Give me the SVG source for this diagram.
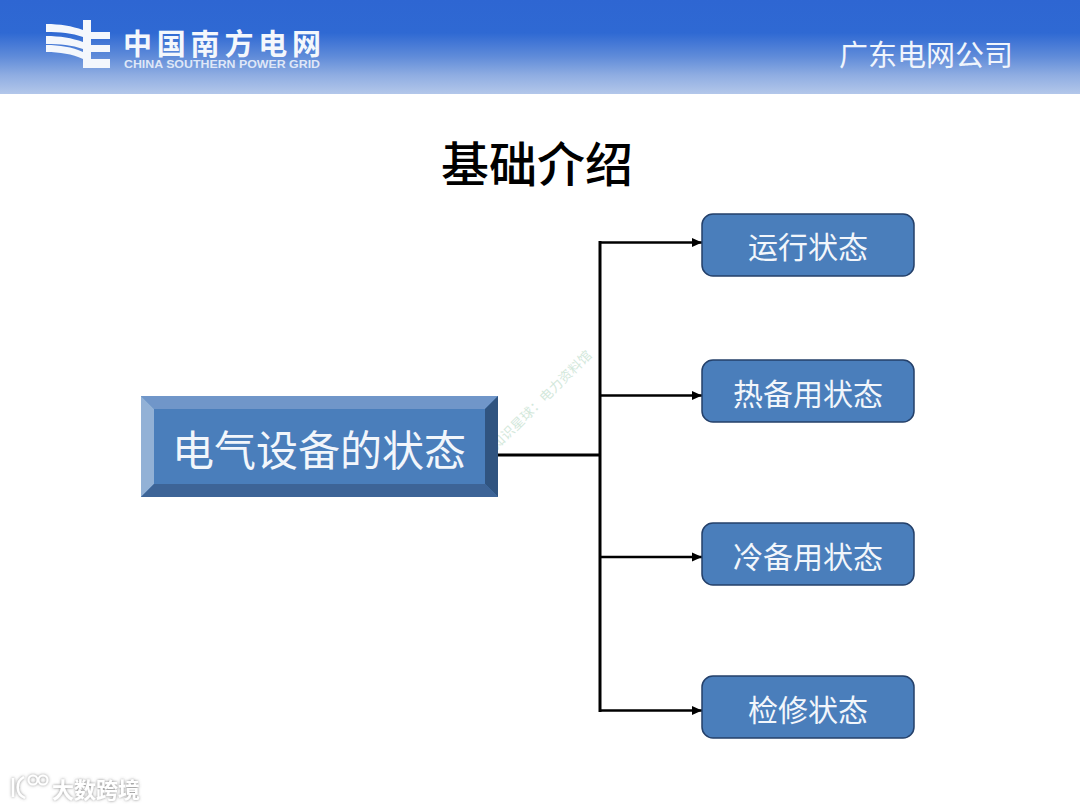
<svg xmlns="http://www.w3.org/2000/svg" width="1080" height="809" viewBox="0 0 1080 809">
<style>
.cjk{font-family:"Noto Sans CJK SC","Liberation Sans",sans-serif}
.lbl{fill:#f2f6fb;font-size:30px;font-weight:400;text-anchor:middle;font-family:"Noto Sans CJK SC",sans-serif}
.box{fill:#4a7ebb;stroke:#24406a;stroke-width:1.5}
.conn{fill:none;stroke:#000;stroke-width:3}
.arr{fill:none;stroke:#000;stroke-width:2.6;marker-end:url(#ah)}
</style>
<defs>
<linearGradient id="hdr" x1="0" y1="0" x2="0" y2="1">
<stop offset="0" stop-color="#2e66d2"/><stop offset="0.35" stop-color="#2f69d3"/><stop offset="0.6" stop-color="#5f8bd9"/><stop offset="0.8" stop-color="#8fade2"/><stop offset="1" stop-color="#b3c7ea"/>
</linearGradient>
<marker id="ah" markerUnits="userSpaceOnUse" markerWidth="11" markerHeight="11" refX="10" refY="5.500" orient="auto"><path d="M0 1L10 5.500L0 10Z" fill="#000"/></marker>
<filter id="sh" x="-10%" y="-30%" width="120%" height="160%"><feDropShadow dx="0" dy="0" stdDeviation="1.6" flood-color="#777" flood-opacity="0.9"/></filter>
</defs>
<rect width="1080" height="809" fill="#fff"/>
<g id="header">
<rect width="1080" height="94" fill="url(#hdr)"/>
<g id="logo" fill="#f4f7fc">
<rect x="83" y="20" width="8" height="48"/>
<rect x="91" y="32" width="19" height="7"/><rect x="91" y="45" width="19" height="7"/><rect x="91" y="59" width="19" height="9"/>
<path d="M46 24C60 24 72 26 83 30V37C72 33 60 32 46 32Z"/>
<path d="M46 36C60 36 72 38 83 42V49C72 45 60 44 46 44Z"/>
<path d="M46 45C60 45 72 47 83 52V59C72 54 60 52 46 52Z"/>
</g>
<text class="cjk" x="123" y="55" font-size="29" font-weight="700" fill="#f4f7fc" textLength="198" lengthAdjust="spacing">中国南方电网</text>
<text x="124" y="68" font-size="10.500" font-weight="700" fill="#dfe7f7" font-family="Liberation Sans,sans-serif" textLength="196" lengthAdjust="spacingAndGlyphs">CHINA SOUTHERN POWER GRID</text>
<text class="cjk" x="926" y="66" font-size="29" fill="#f0f5fc" text-anchor="middle">广东电网公司</text>
</g>
<text id="title" class="cjk" x="537" y="182" font-size="48" font-weight="500" fill="#000" text-anchor="middle">基础介绍</text>
<g id="watermark">
<text transform="translate(497 450) rotate(-44.500)" font-size="13" fill="#d3e8db" font-family="Noto Sans CJK SC,sans-serif" textLength="134" lengthAdjust="spacing">知识星球：电力资料馆</text>
</g>
<g id="connectors">
<path class="conn" d="M498 455H600"/>
<path class="conn" d="M600 241V712"/>
<path class="arr" d="M600 242.500H702"/>
<path class="arr" d="M600 395.500H702"/>
<path class="arr" d="M600 557H702"/>
<path class="arr" d="M600 710.500H702"/>
</g>
<g id="main-node">
<rect x="141" y="396" width="357" height="101" fill="#4a7ebb"/>
<path d="M141 396H498L485 409H154Z" fill="#7096c9"/>
<path d="M141 396L154 409V484L141 497Z" fill="#92b1d6"/>
<path d="M498 396V497L485 484V409Z" fill="#305480"/>
<path d="M141 497L154 484H485L498 497Z" fill="#3d6497"/>
<text class="cjk" x="319" y="466" font-size="42" font-weight="400" fill="#f2f6fb" text-anchor="middle">电气设备的状态</text>
</g>
<g id="node-1"><rect class="box" x="702" y="214" width="212" height="62" rx="11"/><text class="lbl" x="808" y="258">运行状态</text></g>
<g id="node-2"><rect class="box" x="702" y="360" width="212" height="62" rx="11"/><text class="lbl" x="808" y="405">热备用状态</text></g>
<g id="node-3"><rect class="box" x="702" y="523" width="212" height="62" rx="11"/><text class="lbl" x="808" y="568">冷备用状态</text></g>
<g id="node-4"><rect class="box" x="702" y="676" width="212" height="62" rx="11"/><text class="lbl" x="808" y="721">检修状态</text></g>
<g id="footer-mark" filter="url(#sh)">
<text x="52" y="798" class="cjk" font-size="22" font-weight="700" fill="#fff">大数跨境</text>
<path d="M13 778V797M24 777C16 781 15 794 25 798" fill="none" stroke="#fff" stroke-width="2.400"/>
<circle cx="33" cy="780" r="4.500" fill="none" stroke="#fff" stroke-width="2"/>
<circle cx="43" cy="780" r="4.500" fill="none" stroke="#fff" stroke-width="2"/>
</g>
</svg>
